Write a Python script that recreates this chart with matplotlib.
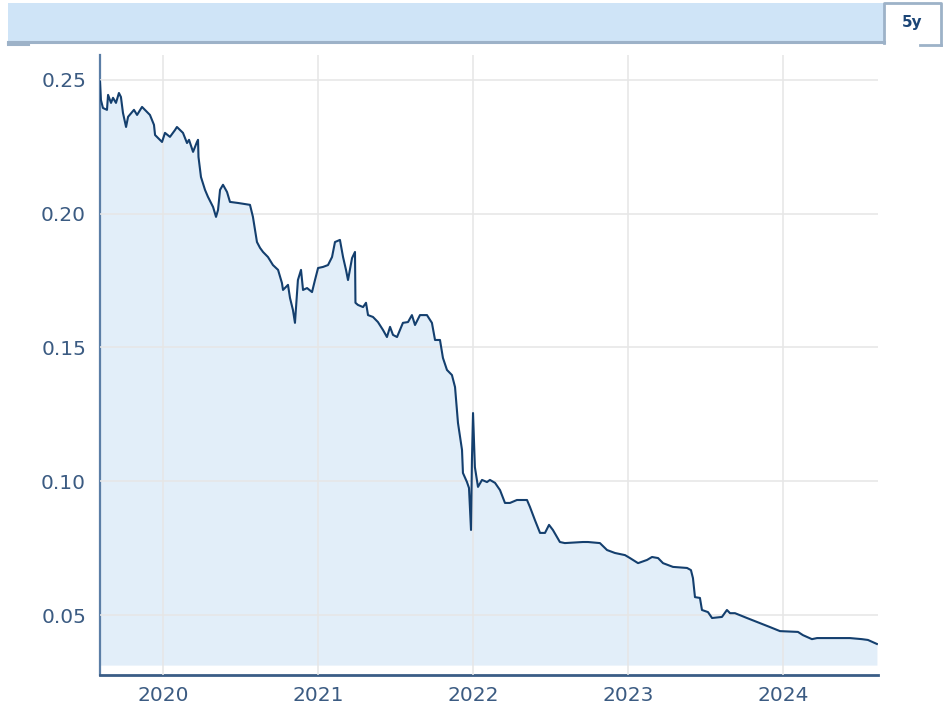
import numpy as np
import matplotlib
matplotlib.use("Agg")
import matplotlib.pyplot as plt
from matplotlib.patches import Rectangle
from matplotlib.lines import Line2D

# time as decimal year, price value
years = [
    2019.594, 2019.600, 2019.613, 2019.639, 2019.646, 2019.665, 2019.678, 2019.697,
    2019.716, 2019.729, 2019.742, 2019.762, 2019.775, 2019.813, 2019.833, 2019.865,
    2019.897, 2019.916, 2019.942, 2019.949, 2019.994, 2020.013, 2020.045, 2020.078,
    2020.090, 2020.129, 2020.155, 2020.168, 2020.194, 2020.219, 2020.226, 2020.229,
    2020.245, 2020.271, 2020.290, 2020.323, 2020.342, 2020.355, 2020.368, 2020.387,
    2020.413, 2020.432, 2020.484, 2020.561, 2020.580, 2020.606, 2020.626, 2020.645,
    2020.677, 2020.709, 2020.742, 2020.767, 2020.774, 2020.806, 2020.819, 2020.838,
    2020.851, 2020.870, 2020.890, 2020.903, 2020.929, 2020.961, 2020.980, 2021.000,
    2021.032, 2021.064, 2021.090, 2021.109, 2021.141, 2021.161, 2021.180, 2021.193,
    2021.219, 2021.238, 2021.241, 2021.257, 2021.290, 2021.309, 2021.322, 2021.354,
    2021.386, 2021.419, 2021.444, 2021.464, 2021.483, 2021.509, 2021.547, 2021.580,
    2021.605, 2021.625, 2021.657, 2021.702, 2021.734, 2021.754, 2021.786, 2021.805,
    2021.831, 2021.863, 2021.883, 2021.902, 2021.928, 2021.934, 2021.960, 2021.973,
    2021.986, 2021.992, 2021.999, 2022.011, 2022.031, 2022.057, 2022.089, 2022.108,
    2022.141, 2022.173, 2022.205, 2022.237, 2022.282, 2022.347, 2022.366, 2022.398,
    2022.431, 2022.463, 2022.489, 2022.514, 2022.559, 2022.591, 2022.707, 2022.740,
    2022.817, 2022.863, 2022.914, 2022.979, 2023.011, 2023.063, 2023.121, 2023.153,
    2023.192, 2023.224, 2023.288, 2023.379, 2023.404, 2023.417, 2023.430, 2023.462,
    2023.475, 2023.514, 2023.540, 2023.604, 2023.636, 2023.656, 2023.688, 2023.765,
    2023.849, 2023.914, 2023.978, 2024.094, 2024.126, 2024.184, 2024.217, 2024.345,
    2024.429, 2024.506, 2024.545, 2024.603,
]
prices = [
    0.2494, 0.2425, 0.2395, 0.2388, 0.2444, 0.2414, 0.2433, 0.2414,
    0.2451, 0.2436, 0.2377, 0.2324, 0.2362, 0.2388, 0.2369, 0.2399,
    0.2380, 0.2369, 0.2332, 0.2294, 0.2268, 0.2302, 0.2287, 0.2313,
    0.2324, 0.2302, 0.2264, 0.2276, 0.2231, 0.2268, 0.2276, 0.2212,
    0.2137, 0.2089, 0.2063, 0.2025, 0.1988, 0.2014, 0.2089, 0.2108,
    0.2081, 0.2044, 0.2040, 0.2033, 0.1988, 0.1894, 0.1872, 0.1857,
    0.1838, 0.1808, 0.1790, 0.1741, 0.1715, 0.1734, 0.1685, 0.1640,
    0.1592, 0.1752, 0.1790, 0.1715, 0.1722, 0.1707, 0.1752, 0.1797,
    0.1801, 0.1808, 0.1838, 0.1894, 0.1902, 0.1838, 0.1790, 0.1752,
    0.1834, 0.1857, 0.1667, 0.1659, 0.1651, 0.1667, 0.1621, 0.1614,
    0.1595, 0.1565, 0.1539, 0.1577, 0.1547, 0.1539, 0.1592, 0.1595,
    0.1621, 0.1584, 0.1621, 0.1621, 0.1592, 0.1528, 0.1528, 0.1461,
    0.1416, 0.1397, 0.1352, 0.1218, 0.1117, 0.1031, 0.0997, 0.0975,
    0.0818, 0.1080, 0.1255, 0.1053, 0.0979, 0.1005, 0.0997, 0.1005,
    0.0994, 0.0967, 0.0919, 0.0919, 0.0930, 0.0930, 0.0904, 0.0855,
    0.0807, 0.0807, 0.0837, 0.0818, 0.0773, 0.0769, 0.0773, 0.0773,
    0.0769, 0.0743, 0.0732, 0.0724, 0.0713, 0.0694, 0.0706, 0.0717,
    0.0713, 0.0694, 0.0680, 0.0676, 0.0668, 0.0638, 0.0567, 0.0564,
    0.0519, 0.0511, 0.0489, 0.0493, 0.0519, 0.0507, 0.0507, 0.0489,
    0.0470, 0.0455, 0.0440, 0.0437, 0.0425, 0.0410, 0.0414, 0.0414,
    0.0414, 0.0410, 0.0407, 0.0392,
]
fill_base = 0.0313
yticks = [0.05, 0.10, 0.15, 0.20, 0.25]
xticks = [2020, 2021, 2022, 2023, 2024]
range_label = "5y"

W, H = 946, 709
line_col = "#143f6e"
fill_col = "#e2eef9"
text_col = "#3b5b82"
border_col = "#9db2c8"

fig = plt.figure(figsize=(W / 100, H / 100), dpi=100)


def px(x, y):
    return x / W, 1 - y / H


# top banner + range tab
bx, by = px(8, 43)
fig.add_artist(Rectangle((bx, by), (884 - 8) / W, 40 / H, transform=fig.transFigure,
                         facecolor="#cfe4f7", edgecolor="none"))
fig.add_artist(Line2D([8 / W, 884 / W], [1 - 42 / H] * 2, transform=fig.transFigure,
                      color=border_col, lw=2.2))
fig.add_artist(Line2D([8 / W, 28 / W], [1 - 44 / H] * 2, transform=fig.transFigure,
                      color=border_col, lw=2.2))
fig.add_artist(Line2D([884 / W, 884 / W, 941 / W, 941 / W],
                      [1 - 43 / H, 1 - 3 / H, 1 - 3 / H, 1 - 45 / H],
                      transform=fig.transFigure, color=border_col, lw=2))
fig.add_artist(Line2D([920 / W, 941 / W], [1 - 45 / H] * 2, transform=fig.transFigure,
                      color=border_col, lw=2))
fig.text(912 / W, 1 - 22 / H, range_label, ha="center", va="center",
         fontsize=11, fontweight="bold", color="#1b4576")

ax = fig.add_axes([100 / W, 1 - 675 / H, 778 / W, 620 / H])

ax.fill_between(years, prices, fill_base, color=fill_col, lw=0, zorder=1)
ax.plot(years, prices, color=line_col, lw=1.5, zorder=3)

ax.set_xlim(2019.594, 2024.610)
ax.set_ylim(0.0276, 0.2593)
ax.set_xticks(xticks)
ax.set_xticklabels([str(t) for t in xticks])
ax.set_yticks(yticks)
ax.set_yticklabels(["%.2f" % t for t in yticks])

ax.grid(True, color="#e6e6e6", lw=1.4)
ax.set_axisbelow(False)
for gl in ax.get_xgridlines() + ax.get_ygridlines():
    gl.set_zorder(2)
    gl.set_alpha(0.8)

ax.tick_params(axis="both", length=0, labelsize=14.5, labelcolor=text_col)
ax.tick_params(axis="y", pad=10)
ax.tick_params(axis="x", pad=8)

for s in ["top", "right"]:
    ax.spines[s].set_visible(False)
ax.spines["left"].set_color("#5b7ea6")
ax.spines["left"].set_linewidth(1.6)
ax.spines["bottom"].set_color("#3a5d86")
ax.spines["bottom"].set_linewidth(2)

fig.savefig("out.png", dpi=100)
